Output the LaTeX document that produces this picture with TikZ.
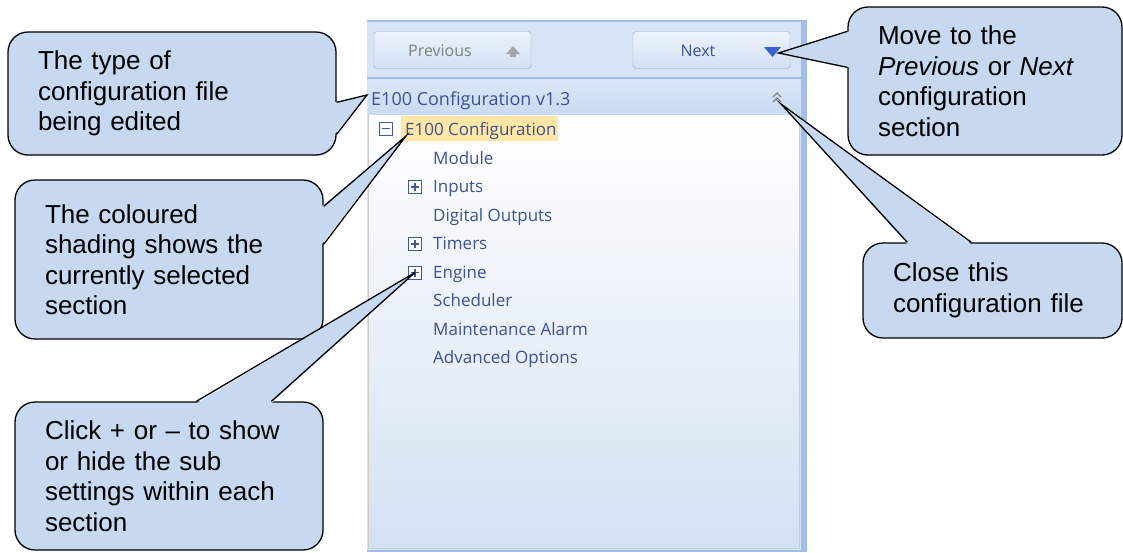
\documentclass[tikz,border=0pt]{standalone}
\usepackage{fontspec}
\setmainfont{Liberation Sans}
\newfontfamily\uifont{Open Sans}
\usetikzlibrary{positioning, calc}

\definecolor{notefill}{RGB}{198,217,241}
\definecolor{uitext}{RGB}{62,80,150}
\definecolor{panelbg}{RGB}{214,228,245}
\definecolor{panelline}{RGB}{160,190,235}
\definecolor{hdrtop}{RGB}{218,231,247}
\definecolor{hdrbot}{RGB}{200,219,242}
\definecolor{btntop}{RGB}{236,243,251}
\definecolor{btnbot}{RGB}{211,225,243}
\definecolor{btnline}{RGB}{145,172,212}
\definecolor{treemid}{RGB}{243,247,252}
\definecolor{treebot}{RGB}{212,225,242}
\definecolor{treeboxline}{RGB}{61,90,158}
\definecolor{selfill}{RGB}{255,231,165}
\definecolor{nextblue}{RGB}{55,100,210}

\begin{document}
\begin{tikzpicture}[x=1pt, y=-1pt,
    note/.style={rectangle, draw, line width=1.3pt, rounded corners=20pt, fill=notefill,
      align=left, inner xsep=30pt, font=\fontsize{26}{30.5}\selectfont},
    ptr/.style={line width=1.3pt},
    btn/.style={rectangle, draw=btnline, rounded corners=3pt, top color=btntop, bottom color=btnbot,
      minimum width=157, minimum height=37},
    btnlabel/.style={inner sep=0pt, font=\uifont\fontsize{16}{18}\selectfont},
    hdrlabel/.style={anchor=west, inner sep=0pt, text=uitext, font=\uifont\fontsize{18}{20}\selectfont},
    item/.style={anchor=west, inner sep=0pt, text height=12, text depth=3.5, text=uitext,
      font=\uifont\fontsize{17}{18}\selectfont},
    treebox/.style={rectangle, draw=treeboxline, fill=white, line width=1pt, minimum size=13, inner sep=0pt},
    selbox/.style={rectangle, fill=selfill, minimum width=157, minimum height=25, inner sep=0pt}
  ]
  \useasboundingbox (0,0) rectangle (1123,552);

  % panel frame
  \fill[panelbg] (367,20) rectangle (807,552);
  \fill[panelline] (801,20) rectangle (807,552);
  \draw[panelline, line width=2pt] (367,21) -- (807,21);
  \draw[panelline, line width=1.5pt] (367,78) -- (801,78);
  \shade[top color=hdrtop, bottom color=hdrbot] (368,80) rectangle (800,115);
  \shade[top color=white, middle color=treemid, bottom color=treebot] (368,115) rectangle (799,548);
  \draw[gray!40] (368,115) -- (368,548) -- (799,548) -- (799,115);
  \draw[panelline, line width=2pt] (367,551) -- (807,551);

  % buttons
  \node[btn] (prevbtn) at (452.5,50) {};
  \node[btn] (nextbtn) at (711.5,50) {};
  \node[btnlabel, text=gray] (prevlabel) at (440,51) {Previous};
  \node[btnlabel, text=uitext] (nextlabel) at (698,51) {Next};
  \fill[gray!70] (506,54) -- (513,46) -- (520,54) -- cycle;
  \fill[gray!70] (510,54) rectangle (516,57);
  \fill[nextblue] (764,47) -- (781,47) -- (772.5,57) -- cycle;
  \coordinate (nextarrow) at (772.5,52);

  % header
  \node[hdrlabel] (hdr) at (371,101) {E100 Configuration v1.3};
  \draw[gray, line width=1.3pt] (773,97) -- (777,93) -- (781,97) (773,102) -- (777,98) -- (781,102);
  \coordinate (closeicon) at (777,99);

  % tree
  \node[selbox] (rootsel) at (479.5,128.5) {};
  \node[treebox] (rootbox) at (385.5,128.5) {};
  \draw[treeboxline, line width=1.2pt] ([xshift=3]rootbox.west) -- ([xshift=-3]rootbox.east);
  \node[item] (roottext) at (405,131) {E100 Configuration};
  \foreach \t [count=\i] in {Module, Inputs, Digital Outputs, Timers, Engine, Scheduler,
      Maintenance Alarm, Advanced Options}
    \node[item] (item\i) at (433,131.5+28.5*\i) {\t};
  \foreach \n/\i in {inputs/2, timers/4, engine/5} {
    \node[treebox] (\n-plus) at ($(item\i.west)+(-18,-1.5)$) {};
    \draw[treeboxline, line width=1.2pt] ([xshift=3]\n-plus.west) -- ([xshift=-3]\n-plus.east)
      ([yshift=3]\n-plus.south) -- ([yshift=-3]\n-plus.north);
  }

  % callouts
  \node[note, text width=268, minimum height=123] (typenote) at (172,93.5)
    {The type of\\configuration file\\being edited};
  \node[note, text width=214, minimum height=148] (navnote) at (985,81)
    {Move to the\\\textit{Previous} or \textit{Next}\\configuration\\section};
  \node[note, text width=248, minimum height=159] (shadenote) at (169,259.5)
    {The coloured\\shading shows the\\currently selected\\section};
  \node[note, text width=248, minimum height=148] (expandnote) at (169,476)
    {Click + or – to show\\or hide the sub\\settings within each\\section};
  \node[note, text width=199, minimum height=95] (closenote) at (992.5,290.5)
    {Close this\\configuration file};

  \coordinate (typetip) at ($(hdr.west)+(-4,-6)$);
  \coordinate (navtip) at ($(nextarrow)+(6,1)$);
  \coordinate (shadetip) at ($(rootsel.south west)+(5,-5)$);
  \coordinate (closetip) at ($(closeicon)+(4,5)$);

  % pointers
  \fill[notefill] ($(typenote.north east)+(-2,71)$) -- (typetip) -- ($(typenote.north east)+(-2,103)$) -- cycle;
  \draw[ptr] ($(typenote.north east)+(0,71)$) -- (typetip) -- ($(typenote.north east)+(0,103)$);
  \fill[notefill] ($(navnote.north west)+(2,25)$) -- (navtip) -- ($(navnote.north west)+(2,61)$) -- cycle;
  \draw[ptr] ($(navnote.north west)+(0,25)$) -- (navtip) -- ($(navnote.north west)+(0,61)$);
  \fill[notefill] ($(shadenote.north east)+(-2,27)$) -- (shadetip) -- ($(shadenote.north east)+(-2,65)$) -- cycle;
  \draw[ptr] ($(shadenote.north east)+(0,27)$) -- (shadetip) -- ($(shadenote.north east)+(0,65)$);
  \fill[notefill] ($(expandnote.north west)+(182,2)$) -- (engine-plus.center) -- ($(expandnote.north west)+(257,2)$) -- cycle;
  \draw[ptr] ($(expandnote.north west)+(182,0)$) -- (engine-plus.center) -- ($(expandnote.north west)+(257,0)$);
  \fill[notefill] ($(closenote.north west)+(45,2)$) -- (closetip) -- ($(closenote.north west)+(109,2)$) -- cycle;
  \draw[ptr] ($(closenote.north west)+(45,0)$) -- (closetip) -- ($(closenote.north west)+(109,0)$);
\end{tikzpicture}
\end{document}
